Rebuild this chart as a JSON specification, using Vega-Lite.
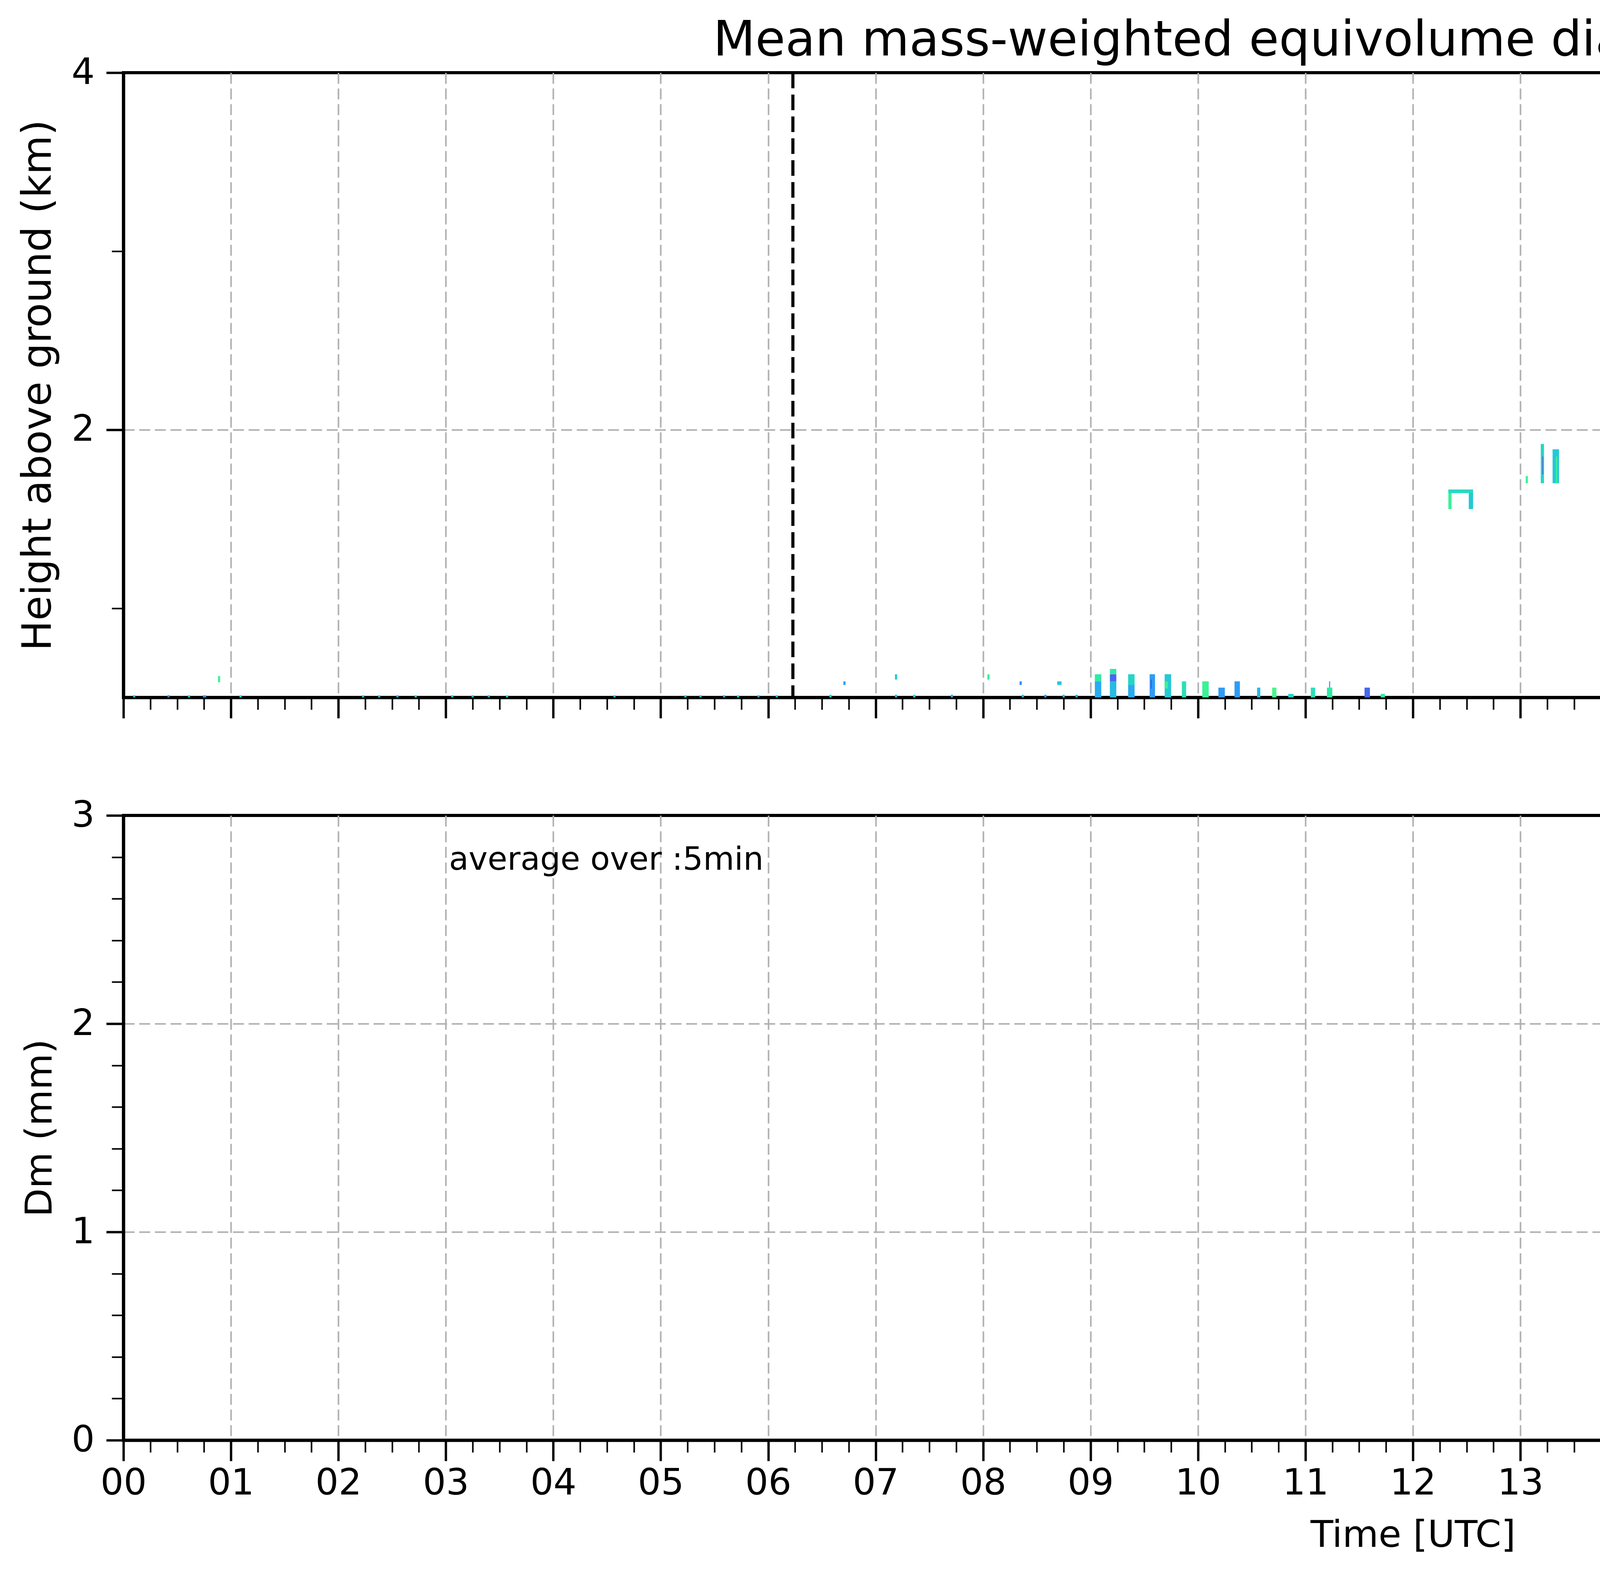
{
"$schema": "https://vega.github.io/schema/vega-lite/v6.json",
"background": "white",
"padding": {"left": 43, "top": 38, "right": 5, "bottom": 5},
"config": {
  "font": "DejaVu Sans",
  "view": {"stroke": "black", "strokeWidth": 8},
  "axis": {"domainColor": "black", "domainWidth": 8, "tickColor": "black", "labelColor": "black", "labelFont": "DejaVu Sans", "labelFontSize": 93, "titleFont": "DejaVu Sans", "titleFontSize": 95, "titleFontWeight": "normal", "titleColor": "black", "gridColor": "#b0b0b0", "gridWidth": 4, "gridDash": [28, 12], "labelOverlap": false, "labelFlush": false},
  "legend": {"gradientVerticalMaxLength": 3000, "labelFont": "DejaVu Sans", "titleFont": "DejaVu Sans"},
  "title": {"font": "DejaVu Sans", "fontWeight": "normal", "color": "black"}
},
"spacing": 302,
"bounds": "flush",
"resolve": {"scale": {"color": "independent"}, "legend": {"color": "independent"}},
"vconcat": [
{
  "width": 6602,
  "height": 1599,
  "title": {"text": "Mean mass-weighted equivolume diameter on 20241111", "fontSize": 125, "anchor": "middle", "offset": -28},
  "layer": [
    {
      "data": {"values": [{"a": 23.9, "b": 24, "lo": 0.5, "hi": 4}]},
      "mark": {"type": "rect", "color": "#d9d9d9"},
      "encoding": {
        "x": {"field": "a", "type": "quantitative", "scale": {"domain": [0, 24], "nice": false, "zero": false}},
        "x2": {"field": "b"},
        "y": {"field": "lo", "type": "quantitative", "scale": {"domain": [0.5, 4], "nice": false, "zero": false}},
        "y2": {"field": "hi"}
      }
    },
    {
      "data": {"values": [
{"a":0.09,"b":0.11,"lo":0.5,"hi":0.512,"dm":0.5},
{"a":0.41,"b":0.43,"lo":0.5,"hi":0.512,"dm":0.3},
{"a":0.60,"b":0.62,"lo":0.5,"hi":0.512,"dm":0.55},
{"a":0.74,"b":0.77,"lo":0.5,"hi":0.512,"dm":0.4},
{"a":0.88,"b":0.90,"lo":0.585,"hi":0.62,"dm":0.75},
{"a":1.08,"b":1.10,"lo":0.5,"hi":0.512,"dm":0.6},
{"a":2.22,"b":2.24,"lo":0.5,"hi":0.512,"dm":0.55},
{"a":2.37,"b":2.39,"lo":0.5,"hi":0.512,"dm":0.5},
{"a":2.54,"b":2.56,"lo":0.5,"hi":0.512,"dm":0.45},
{"a":2.71,"b":2.73,"lo":0.5,"hi":0.512,"dm":0.6},
{"a":3.05,"b":3.07,"lo":0.5,"hi":0.512,"dm":0.55},
{"a":3.24,"b":3.26,"lo":0.5,"hi":0.512,"dm":0.5},
{"a":3.39,"b":3.41,"lo":0.5,"hi":0.512,"dm":0.45},
{"a":3.56,"b":3.58,"lo":0.5,"hi":0.512,"dm":0.6},
{"a":4.56,"b":4.58,"lo":0.5,"hi":0.512,"dm":0.5},
{"a":5.22,"b":5.24,"lo":0.5,"hi":0.512,"dm":0.55},
{"a":5.36,"b":5.38,"lo":0.5,"hi":0.512,"dm":0.5},
{"a":5.58,"b":5.60,"lo":0.5,"hi":0.512,"dm":0.45},
{"a":5.71,"b":5.73,"lo":0.5,"hi":0.512,"dm":0.6},
{"a":5.90,"b":5.92,"lo":0.5,"hi":0.512,"dm":0.4},
{"a":6.07,"b":6.09,"lo":0.5,"hi":0.512,"dm":0.5},
{"a":6.57,"b":6.59,"lo":0.5,"hi":0.515,"dm":0.6},
{"a":6.70,"b":6.72,"lo":0.57,"hi":0.59,"dm":0.4},
{"a":7.18,"b":7.20,"lo":0.6,"hi":0.63,"dm":0.55},
{"a":7.18,"b":7.20,"lo":0.5,"hi":0.515,"dm":0.5},
{"a":7.35,"b":7.37,"lo":0.5,"hi":0.515,"dm":0.6},
{"a":7.70,"b":7.72,"lo":0.5,"hi":0.515,"dm":0.45},
{"a":8.04,"b":8.06,"lo":0.6,"hi":0.63,"dm":0.75},
{"a":8.34,"b":8.36,"lo":0.57,"hi":0.59,"dm":0.35},
{"a":8.36,"b":8.38,"lo":0.5,"hi":0.515,"dm":0.5},
{"a":8.57,"b":8.59,"lo":0.5,"hi":0.515,"dm":0.4},
{"a":8.69,"b":8.73,"lo":0.57,"hi":0.59,"dm":0.55},
{"a":8.74,"b":8.76,"lo":0.5,"hi":0.515,"dm":0.5},
{"a":8.86,"b":8.88,"lo":0.5,"hi":0.515,"dm":0.45},
{"a":9.04,"b":9.10,"lo":0.5,"hi":0.59,"dm":0.45},
{"a":9.04,"b":9.10,"lo":0.59,"hi":0.63,"dm":0.7},
{"a":9.18,"b":9.24,"lo":0.5,"hi":0.59,"dm":0.5},
{"a":9.18,"b":9.24,"lo":0.59,"hi":0.63,"dm":0.25},
{"a":9.18,"b":9.24,"lo":0.63,"hi":0.66,"dm":0.7},
{"a":9.35,"b":9.41,"lo":0.5,"hi":0.57,"dm":0.45},
{"a":9.35,"b":9.41,"lo":0.57,"hi":0.63,"dm":0.6},
{"a":9.55,"b":9.60,"lo":0.5,"hi":0.63,"dm":0.4},
{"a":9.56,"b":9.57,"lo":0.55,"hi":0.6,"dm":0.2},
{"a":9.69,"b":9.75,"lo":0.5,"hi":0.63,"dm":0.55},
{"a":9.69,"b":9.72,"lo":0.55,"hi":0.59,"dm":0.75},
{"a":9.85,"b":9.89,"lo":0.5,"hi":0.59,"dm":0.65},
{"a":10.04,"b":10.10,"lo":0.5,"hi":0.59,"dm":0.75},
{"a":10.19,"b":10.25,"lo":0.5,"hi":0.555,"dm":0.4},
{"a":10.34,"b":10.39,"lo":0.5,"hi":0.59,"dm":0.4},
{"a":10.55,"b":10.58,"lo":0.5,"hi":0.555,"dm":0.5},
{"a":10.69,"b":10.73,"lo":0.5,"hi":0.555,"dm":0.8},
{"a":10.84,"b":10.89,"lo":0.5,"hi":0.52,"dm":0.6},
{"a":11.05,"b":11.09,"lo":0.5,"hi":0.555,"dm":0.65},
{"a":11.20,"b":11.25,"lo":0.5,"hi":0.555,"dm":0.7},
{"a":11.22,"b":11.23,"lo":0.555,"hi":0.59,"dm":0.4},
{"a":11.55,"b":11.60,"lo":0.5,"hi":0.555,"dm":0.25},
{"a":11.70,"b":11.74,"lo":0.5,"hi":0.52,"dm":0.7},
{"a":12.33,"b":12.36,"lo":1.555,"hi":1.66,"dm":0.75},
{"a":12.52,"b":12.56,"lo":1.555,"hi":1.66,"dm":0.55},
{"a":12.33,"b":12.56,"lo":1.645,"hi":1.665,"dm":0.62},
{"a":13.05,"b":13.07,"lo":1.70,"hi":1.74,"dm":0.75},
{"a":13.19,"b":13.22,"lo":1.70,"hi":1.92,"dm":0.6},
{"a":13.205,"b":13.212,"lo":1.75,"hi":1.85,"dm":0.2},
{"a":13.30,"b":13.36,"lo":1.70,"hi":1.89,"dm":0.55},
{"a":13.33,"b":13.345,"lo":1.70,"hi":1.85,"dm":0.72},
{"a":14.35,"b":14.39,"lo":1.84,"hi":1.92,"dm":0.75},
{"a":14.59,"b":14.61,"lo":0.5,"hi":0.515,"dm":0.4},
{"a":14.70,"b":14.72,"lo":0.5,"hi":0.515,"dm":0.5},
{"a":14.86,"b":14.89,"lo":0.5,"hi":0.515,"dm":0.45},
{"a":14.86,"b":14.87,"lo":2.2,"hi":2.24,"dm":0.5},
{"a":15.04,"b":15.06,"lo":1.92,"hi":2.17,"dm":0.3},
{"a":15.19,"b":15.23,"lo":1.81,"hi":2.21,"dm":0.45},
{"a":15.23,"b":15.26,"lo":1.85,"hi":2.21,"dm":0.65},
{"a":15.20,"b":15.21,"lo":1.95,"hi":2.1,"dm":0.25},
{"a":15.32,"b":15.35,"lo":1.85,"hi":2.17,"dm":0.6},
{"a":15.35,"b":15.38,"lo":1.88,"hi":2.17,"dm":0.4},
{"a":15.33,"b":15.34,"lo":1.8,"hi":1.85,"dm":0.9},
{"a":15.52,"b":15.55,"lo":1.88,"hi":2.24,"dm":0.45},
{"a":15.55,"b":15.58,"lo":1.92,"hi":2.24,"dm":0.6},
{"a":15.535,"b":15.545,"lo":2.0,"hi":2.1,"dm":0.2},
{"a":15.68,"b":15.72,"lo":2.03,"hi":2.21,"dm":0.5},
{"a":15.72,"b":15.75,"lo":2.05,"hi":2.21,"dm":0.4},
{"a":15.85,"b":15.856,"lo":2.03,"hi":2.21,"dm":0.2},
{"a":16.085,"b":16.095,"lo":1.96,"hi":2.24,"dm":0.45},
{"a":16.365,"b":16.372,"lo":2.05,"hi":2.36,"dm":0.35},
{"a":16.225,"b":16.235,"lo":0.88,"hi":1.09,"dm":0.6},
{"a":16.33,"b":16.37,"lo":0.5,"hi":0.77,"dm":0.5},
{"a":16.54,"b":16.565,"lo":0.5,"hi":0.91,"dm":0.6},
{"a":16.565,"b":16.59,"lo":0.5,"hi":0.75,"dm":0.45},
{"a":16.555,"b":16.565,"lo":0.91,"hi":1.09,"dm":0.5},
{"a":16.69,"b":16.70,"lo":0.5,"hi":1.13,"dm":0.45},
{"a":16.70,"b":16.715,"lo":0.85,"hi":1.0,"dm":0.55},
{"a":16.715,"b":16.735,"lo":0.62,"hi":1.12,"dm":0.6},
{"a":16.845,"b":16.86,"lo":0.6,"hi":1.13,"dm":0.45},
{"a":16.87,"b":16.885,"lo":1.0,"hi":1.13,"dm":0.5},
{"a":16.87,"b":16.88,"lo":0.5,"hi":0.56,"dm":0.7},
{"a":16.855,"b":16.865,"lo":0.5,"hi":0.6,"dm":0.4},
{"a":17.03,"b":17.06,"lo":0.5,"hi":1.06,"dm":0.42},
{"a":17.06,"b":17.09,"lo":0.5,"hi":1.06,"dm":0.55},
{"a":17.045,"b":17.052,"lo":0.6,"hi":1.0,"dm":0.2},
{"a":17.035,"b":17.045,"lo":0.55,"hi":0.75,"dm":0.75},
{"a":17.18,"b":17.21,"lo":0.5,"hi":1.09,"dm":0.65},
{"a":17.21,"b":17.24,"lo":0.5,"hi":1.09,"dm":0.48},
{"a":17.222,"b":17.23,"lo":0.7,"hi":0.95,"dm":0.2},
{"a":17.34,"b":17.365,"lo":0.5,"hi":1.09,"dm":0.45},
{"a":17.365,"b":17.39,"lo":0.5,"hi":1.09,"dm":0.58},
{"a":17.37,"b":17.38,"lo":0.6,"hi":0.75,"dm":0.8},
{"a":17.54,"b":17.565,"lo":0.5,"hi":1.02,"dm":0.42},
{"a":17.565,"b":17.59,"lo":0.5,"hi":1.02,"dm":0.5},
{"a":17.55,"b":17.557,"lo":0.6,"hi":0.95,"dm":0.2},
{"a":17.69,"b":17.715,"lo":0.55,"hi":1.09,"dm":0.45},
{"a":17.715,"b":17.74,"lo":0.5,"hi":1.09,"dm":0.55},
{"a":17.835,"b":17.845,"lo":0.5,"hi":1.09,"dm":0.6},
{"a":17.855,"b":17.865,"lo":0.6,"hi":1.05,"dm":0.45},
{"a":17.875,"b":17.885,"lo":0.5,"hi":0.9,"dm":0.55},
{"a":17.885,"b":17.89,"lo":0.5,"hi":0.55,"dm":1.2},
{"a":18.045,"b":18.055,"lo":0.6,"hi":1.09,"dm":0.45},
{"a":18.06,"b":18.07,"lo":0.8,"hi":1.05,"dm":0.55},
{"a":18.07,"b":18.08,"lo":0.55,"hi":0.62,"dm":0.4},
{"a":17.855,"b":17.865,"lo":2.02,"hi":2.36,"dm":0.6},
{"a":18.065,"b":18.075,"lo":2.02,"hi":2.39,"dm":0.55},
{"a":18.545,"b":18.555,"lo":2.46,"hi":2.5,"dm":0.55},
{"a":18.71,"b":18.73,"lo":2.17,"hi":2.46,"dm":0.45},
{"a":18.73,"b":18.75,"lo":2.25,"hi":2.46,"dm":0.65},
{"a":18.72,"b":18.725,"lo":2.3,"hi":2.37,"dm":1.5},
{"a":18.86,"b":18.88,"lo":2.13,"hi":2.5,"dm":0.55},
{"a":18.88,"b":18.90,"lo":2.2,"hi":2.5,"dm":0.4},
{"a":19.03,"b":19.06,"lo":2.27,"hi":2.53,"dm":0.7},
{"a":19.17,"b":19.20,"lo":2.35,"hi":2.57,"dm":0.6},
{"a":19.20,"b":19.23,"lo":2.35,"hi":2.57,"dm":0.4},
{"a":19.375,"b":19.385,"lo":2.43,"hi":2.57,"dm":0.3},
{"a":19.565,"b":19.575,"lo":2.36,"hi":2.61,"dm":0.45},
{"a":19.575,"b":19.58,"lo":2.45,"hi":2.55,"dm":0.7},
{"a":19.725,"b":19.735,"lo":2.5,"hi":2.64,"dm":0.4},
{"a":19.565,"b":19.58,"lo":0.84,"hi":1.02,"dm":0.5},
{"a":19.57,"b":19.578,"lo":1.13,"hi":1.165,"dm":0.55},
{"a":19.71,"b":19.716,"lo":0.70,"hi":0.73,"dm":1.6},
{"a":19.84,"b":19.85,"lo":0.62,"hi":0.95,"dm":0.45},
{"a":19.86,"b":19.87,"lo":0.55,"hi":0.8,"dm":0.5},
{"a":19.875,"b":19.885,"lo":0.95,"hi":1.02,"dm":1.3},
{"a":19.88,"b":19.89,"lo":0.5,"hi":0.6,"dm":0.45},
{"a":20.04,"b":20.05,"lo":0.55,"hi":1.0,"dm":0.45},
{"a":20.06,"b":20.075,"lo":0.5,"hi":0.95,"dm":0.5},
{"a":20.075,"b":20.085,"lo":0.55,"hi":0.75,"dm":0.45},
{"a":20.19,"b":20.22,"lo":0.5,"hi":1.2,"dm":0.55},
{"a":20.22,"b":20.25,"lo":0.5,"hi":1.2,"dm":0.45},
{"a":20.198,"b":20.205,"lo":0.88,"hi":1.13,"dm":0.22},
{"a":20.34,"b":20.37,"lo":0.5,"hi":1.2,"dm":0.5},
{"a":20.37,"b":20.40,"lo":0.5,"hi":1.2,"dm":0.45},
{"a":20.352,"b":20.358,"lo":0.8,"hi":1.05,"dm":0.2},
{"a":20.365,"b":20.372,"lo":0.6,"hi":0.8,"dm":0.75},
{"a":20.54,"b":20.575,"lo":0.5,"hi":1.2,"dm":0.5},
{"a":20.575,"b":20.61,"lo":0.5,"hi":1.2,"dm":0.44},
{"a":20.54,"b":20.55,"lo":0.5,"hi":0.6,"dm":0.22},
{"a":20.69,"b":20.72,"lo":0.5,"hi":1.2,"dm":0.55},
{"a":20.72,"b":20.75,"lo":0.5,"hi":1.2,"dm":0.47},
{"a":20.73,"b":20.74,"lo":0.85,"hi":0.95,"dm":0.75},
{"a":20.69,"b":20.70,"lo":0.55,"hi":0.63,"dm":0.15},
{"a":20.845,"b":20.91,"lo":0.66,"hi":0.88,"dm":0.55},
{"a":20.85,"b":20.91,"lo":0.55,"hi":0.66,"dm":0.8},
{"a":20.845,"b":20.875,"lo":0.5,"hi":0.55,"dm":0.3},
{"a":20.875,"b":20.91,"lo":0.5,"hi":0.55,"dm":0.45},
{"a":20.86,"b":20.865,"lo":0.88,"hi":1.06,"dm":0.5},
{"a":21.04,"b":21.10,"lo":0.5,"hi":0.66,"dm":0.55},
{"a":21.045,"b":21.06,"lo":0.5,"hi":0.53,"dm":1.0},
{"a":21.19,"b":21.25,"lo":0.5,"hi":0.63,"dm":0.52},
{"a":21.19,"b":21.20,"lo":0.66,"hi":0.7,"dm":0.6},
{"a":21.34,"b":21.37,"lo":0.5,"hi":1.165,"dm":0.6},
{"a":21.37,"b":21.40,"lo":0.5,"hi":1.165,"dm":0.45},
{"a":21.34,"b":21.37,"lo":0.95,"hi":1.13,"dm":0.7},
{"a":21.54,"b":21.57,"lo":0.5,"hi":1.165,"dm":0.5},
{"a":21.57,"b":21.60,"lo":0.5,"hi":1.165,"dm":0.45},
{"a":21.54,"b":21.565,"lo":0.77,"hi":0.95,"dm":0.75},
{"a":21.69,"b":21.72,"lo":0.5,"hi":1.165,"dm":0.55},
{"a":21.72,"b":21.75,"lo":0.5,"hi":1.165,"dm":0.5},
{"a":21.84,"b":21.90,"lo":0.5,"hi":1.13,"dm":0.52},
{"a":22.04,"b":22.07,"lo":0.5,"hi":1.13,"dm":0.57},
{"a":22.07,"b":22.10,"lo":0.5,"hi":1.13,"dm":0.45},
{"a":22.045,"b":22.06,"lo":0.55,"hi":0.6,"dm":0.75},
{"a":22.19,"b":22.22,"lo":0.5,"hi":1.13,"dm":0.5},
{"a":22.22,"b":22.25,"lo":0.5,"hi":1.13,"dm":0.46},
{"a":22.34,"b":22.37,"lo":0.5,"hi":1.13,"dm":0.55},
{"a":22.37,"b":22.40,"lo":0.5,"hi":1.13,"dm":0.5},
{"a":22.54,"b":22.57,"lo":0.5,"hi":1.095,"dm":0.56},
{"a":22.57,"b":22.60,"lo":0.5,"hi":1.095,"dm":0.47},
{"a":22.69,"b":22.72,"lo":0.5,"hi":1.095,"dm":0.58},
{"a":22.72,"b":22.75,"lo":0.5,"hi":1.095,"dm":0.46},
{"a":22.84,"b":22.87,"lo":0.5,"hi":1.095,"dm":0.52},
{"a":22.87,"b":22.90,"lo":0.5,"hi":1.095,"dm":0.45},
{"a":23.04,"b":23.07,"lo":0.5,"hi":1.095,"dm":0.56},
{"a":23.07,"b":23.10,"lo":0.5,"hi":1.095,"dm":0.44},
{"a":23.04,"b":23.05,"lo":0.77,"hi":0.98,"dm":0.3},
{"a":23.19,"b":23.22,"lo":0.5,"hi":1.06,"dm":0.55},
{"a":23.22,"b":23.25,"lo":0.5,"hi":1.06,"dm":0.45},
{"a":23.20,"b":23.215,"lo":0.8,"hi":0.98,"dm":0.18},
{"a":23.34,"b":23.37,"lo":0.5,"hi":1.06,"dm":0.55},
{"a":23.37,"b":23.40,"lo":0.5,"hi":1.06,"dm":0.5},
{"a":23.34,"b":23.40,"lo":0.77,"hi":0.95,"dm":0.8},
{"a":23.54,"b":23.57,"lo":0.5,"hi":1.06,"dm":0.55},
{"a":23.57,"b":23.60,"lo":0.5,"hi":1.06,"dm":0.47},
{"a":23.54,"b":23.60,"lo":0.77,"hi":0.84,"dm":0.9},
{"a":23.69,"b":23.72,"lo":0.5,"hi":1.06,"dm":0.55},
{"a":23.72,"b":23.75,"lo":0.5,"hi":1.06,"dm":0.45},
{"a":23.69,"b":23.75,"lo":0.8,"hi":0.95,"dm":0.8},
{"a":23.72,"b":23.73,"lo":0.77,"hi":0.88,"dm":0.15},
{"a":23.84,"b":23.89,"lo":0.5,"hi":1.02,"dm":0.5},
{"a":23.85,"b":23.89,"lo":0.72,"hi":0.9,"dm":0.85}
      ]},
      "mark": {"type": "rect"},
      "encoding": {
        "x": {"field": "a", "type": "quantitative", "scale": {"domain": [0, 24], "nice": false, "zero": false},
          "axis": {"values": [0,0.25,0.5,0.75,1,1.25,1.5,1.75,2,2.25,2.5,2.75,3,3.25,3.5,3.75,4,4.25,4.5,4.75,5,5.25,5.5,5.75,6,6.25,6.5,6.75,7,7.25,7.5,7.75,8,8.25,8.5,8.75,9,9.25,9.5,9.75,10,10.25,10.5,10.75,11,11.25,11.5,11.75,12,12.25,12.5,12.75,13,13.25,13.5,13.75,14,14.25,14.5,14.75,15,15.25,15.5,15.75,16,16.25,16.5,16.75,17,17.25,17.5,17.75,18,18.25,18.5,18.75,19,19.25,19.5,19.75,20,20.25,20.5,20.75,21,21.25,21.5,21.75,22,22.25,22.5,22.75,23,23.25,23.5,23.75,24],
            "labels": false, "title": null, "grid": true,
            "gridOpacity": {"condition": {"test": "datum.value % 1 === 0 && datum.value > 0 && datum.value < 24", "value": 1}, "value": 0},
            "tickSize": {"condition": {"test": "datum.value % 1 === 0", "value": 53}, "value": 31},
            "tickWidth": {"condition": {"test": "datum.value % 1 === 0", "value": 6}, "value": 4}}},
        "x2": {"field": "b"},
        "y": {"field": "lo", "type": "quantitative", "scale": {"domain": [0.5, 4], "nice": false, "zero": false},
          "axis": {"values": [1, 2, 3, 4], "labelExpr": "datum.value % 2 === 0 ? '' + datum.value : ''",
            "title": "Height above ground (km)", "titleFontSize": 103, "titlePadding": 31, "labelPadding": 30, "grid": true,
            "gridOpacity": {"condition": {"test": "datum.value === 2", "value": 1}, "value": 0},
            "tickSize": {"condition": {"test": "datum.value % 2 === 0", "value": 44}, "value": 30},
            "tickWidth": {"condition": {"test": "datum.value % 2 === 0", "value": 6}, "value": 4}}},
        "y2": {"field": "hi"},
        "color": {"field": "dm", "type": "quantitative", "scale": {"scheme": "turbo", "domain": [0, 2]},
          "legend": {"type": "gradient", "direction": "vertical", "orient": "right", "offset": 73, "padding": 0,
            "gradientLength": 1599, "gradientThickness": 113, "gradientStrokeColor": "black", "gradientStrokeWidth": 4,
            "values": [0, 0.4, 0.8, 1.2, 1.6, 2.0], "format": ".1f", "labelFontSize": 76, "labelColor": "black", "labelOffset": 52, "labelBaseline": "middle",
            "title": "Dm (mm)", "titleOrient": "right", "titleFontSize": 81, "titleFontWeight": "normal", "titleColor": "black", "titlePadding": 35, "titleAnchor": "middle", "titleLimit": 3000}}
      }
    },
    {
      "data": {"values": [{"t": 6.23}, {"t": 15.66}]},
      "mark": {"type": "rule", "color": "black", "strokeWidth": 8, "strokeDash": [40, 16]},
      "encoding": {"x": {"field": "t", "type": "quantitative"}}
    }
  ]
},
{
  "width": 6602,
  "height": 1599,
  "layer": [
    {
      "data": {"values": [
{"seg":1,"t":17.0,"lo":0.41,"hi":0.748,"med":0.585,"series":"Min-Max Range radar Dm"},
{"seg":1,"t":17.083,"lo":0.44,"hi":0.62,"med":0.485,"series":"Min-Max Range radar Dm"},
{"seg":1,"t":17.167,"lo":0.077,"hi":0.81,"med":0.551,"series":"Min-Max Range radar Dm"},
{"seg":2,"t":17.5,"lo":0.071,"hi":0.673,"med":0.469,"series":"Min-Max Range radar Dm"},
{"seg":2,"t":17.583,"lo":0.451,"hi":0.577,"med":0.515,"series":"Min-Max Range radar Dm"},
{"seg":2,"t":17.667,"lo":0.444,"hi":0.556,"med":0.513,"series":"Min-Max Range radar Dm"},
{"seg":3,"t":18.0,"lo":0.605,"hi":0.605,"med":0.605,"series":"Min-Max Range radar Dm"},
{"seg":3,"t":18.083,"lo":0.515,"hi":0.515,"med":0.515,"series":"Min-Max Range radar Dm"},
{"seg":4,"t":20.0,"lo":0.327,"hi":0.56,"med":0.426,"series":"Min-Max Range radar Dm"},
{"seg":4,"t":20.083,"lo":0.286,"hi":0.67,"med":0.592,"series":"Min-Max Range radar Dm"},
{"seg":4,"t":20.167,"lo":0.245,"hi":0.77,"med":0.485,"series":"Min-Max Range radar Dm"},
{"seg":5,"t":20.5,"lo":0.449,"hi":0.585,"med":0.503,"series":"Min-Max Range radar Dm"},
{"seg":5,"t":20.583,"lo":0.49,"hi":0.52,"med":0.503,"series":"Min-Max Range radar Dm"},
{"seg":5,"t":20.667,"lo":0.393,"hi":0.668,"med":0.538,"series":"Min-Max Range radar Dm"},
{"seg":6,"t":21.5,"lo":0.357,"hi":0.551,"med":0.487,"series":"Min-Max Range radar Dm"},
{"seg":6,"t":21.583,"lo":0.44,"hi":0.49,"med":0.449,"series":"Min-Max Range radar Dm"},
{"seg":6,"t":21.667,"lo":0.372,"hi":0.568,"med":0.464,"series":"Min-Max Range radar Dm"},
{"seg":7,"t":22.0,"lo":0.418,"hi":0.748,"med":0.541,"series":"Min-Max Range radar Dm"},
{"seg":7,"t":22.083,"lo":0.526,"hi":0.622,"med":0.563,"series":"Min-Max Range radar Dm"},
{"seg":7,"t":22.167,"lo":0.362,"hi":0.714,"med":0.541,"series":"Min-Max Range radar Dm"},
{"seg":8,"t":22.5,"lo":0.429,"hi":0.577,"med":0.505,"series":"Min-Max Range radar Dm"},
{"seg":8,"t":22.583,"lo":0.367,"hi":0.507,"med":0.474,"series":"Min-Max Range radar Dm"},
{"seg":8,"t":22.667,"lo":0.367,"hi":0.607,"med":0.5,"series":"Min-Max Range radar Dm"},
{"seg":9,"t":23.0,"lo":0.316,"hi":0.64,"med":0.51,"series":"Min-Max Range radar Dm"},
{"seg":9,"t":23.083,"lo":0.528,"hi":0.63,"med":0.551,"series":"Min-Max Range radar Dm"},
{"seg":9,"t":23.167,"lo":0.466,"hi":0.622,"med":0.52,"series":"Min-Max Range radar Dm"},
{"seg":10,"t":23.5,"lo":0.439,"hi":0.636,"med":0.517,"series":"Min-Max Range radar Dm"},
{"seg":10,"t":23.583,"lo":0.5,"hi":0.599,"med":0.533,"series":"Min-Max Range radar Dm"},
{"seg":10,"t":23.667,"lo":0.398,"hi":0.653,"med":0.513,"series":"Min-Max Range radar Dm"}
      ], "name": "bands"},
      "mark": {"type": "area", "stroke": "#a6a6a6", "strokeWidth": 3, "opacity": 1},
      "encoding": {
        "x": {"field": "t", "type": "quantitative", "scale": {"domain": [0, 24], "nice": false, "zero": false},
          "axis": {"values": [0,0.25,0.5,0.75,1,1.25,1.5,1.75,2,2.25,2.5,2.75,3,3.25,3.5,3.75,4,4.25,4.5,4.75,5,5.25,5.5,5.75,6,6.25,6.5,6.75,7,7.25,7.5,7.75,8,8.25,8.5,8.75,9,9.25,9.5,9.75,10,10.25,10.5,10.75,11,11.25,11.5,11.75,12,12.25,12.5,12.75,13,13.25,13.5,13.75,14,14.25,14.5,14.75,15,15.25,15.5,15.75,16,16.25,16.5,16.75,17,17.25,17.5,17.75,18,18.25,18.5,18.75,19,19.25,19.5,19.75,20,20.25,20.5,20.75,21,21.25,21.5,21.75,22,22.25,22.5,22.75,23,23.25,23.5,23.75,24],
            "labelExpr": "(datum.value % 1 === 0 && datum.value < 24) ? (datum.value < 10 ? '0' + datum.value : '' + datum.value) : ''",
            "labelPadding": 12, "title": "Time [UTC]", "titlePadding": 40, "grid": true,
            "gridOpacity": {"condition": {"test": "datum.value % 1 === 0 && datum.value > 0 && datum.value < 24", "value": 1}, "value": 0},
            "tickSize": {"condition": {"test": "datum.value % 1 === 0", "value": 53}, "value": 31},
            "tickWidth": {"condition": {"test": "datum.value % 1 === 0", "value": 6}, "value": 4}}},
        "y": {"field": "lo", "type": "quantitative", "scale": {"domain": [0, 3], "nice": false, "zero": false},
          "axis": {"values": [0,0.2,0.4,0.6,0.8,1,1.2,1.4,1.6,1.8,2,2.2,2.4,2.6,2.8,3], "labelExpr": "datum.value % 1 === 0 ? '' + datum.value : ''",
            "title": "Dm (mm)", "titlePadding": 31, "labelPadding": 30, "grid": true,
            "gridOpacity": {"condition": {"test": "datum.value === 1 || datum.value === 2", "value": 1}, "value": 0},
            "tickSize": {"condition": {"test": "datum.value % 1 === 0", "value": 44}, "value": 30},
            "tickWidth": {"condition": {"test": "datum.value % 1 === 0", "value": 6}, "value": 4}}},
        "y2": {"field": "hi"},
        "detail": {"field": "seg", "type": "nominal"},
        "color": {"field": "series", "type": "nominal",
          "scale": {"domain": ["Min-Max Range radar Dm", "radar(xmacs-wmacs)_Dm_median", "Min-Max Range parsivel Dm", "parsivel_Dm_median"], "range": ["#bfbfbf", "#000000", "#ebb3eb", "#c000c0"]},
          "legend": {"orient": "top-right", "offset": 36, "padding": 22, "title": null, "strokeColor": "#cccccc", "cornerRadius": 15, "fillColor": "rgba(255,255,255,0.85)",
            "symbolType": "square", "symbolSize": 4900, "symbolOffset": 30, "labelOffset": 84, "rowPadding": 27, "labelFontSize": 69, "labelColor": "black", "labelLimit": 3000}}
      }
    },
    {
      "data": {"values": [
{"t":16.5,"lo":0.432,"hi":0.722},
{"t":16.667,"lo":0.415,"hi":0.630},
{"t":16.833,"lo":0.160,"hi":0.785},
{"t":17.333,"lo":0.294,"hi":1.281},
{"t":17.833,"lo":0.177,"hi":0.678},
{"t":19.833,"lo":0.535,"hi":0.595},
{"t":20.333,"lo":0.432,"hi":0.717},
{"t":20.833,"lo":0.415,"hi":0.644},
{"t":21.333,"lo":0.409,"hi":0.564},
{"t":21.833,"lo":0.462,"hi":0.567},
{"t":22.333,"lo":0.355,"hi":0.669},
{"t":22.833,"lo":0.283,"hi":0.612},
{"t":23.333,"lo":0.228,"hi":0.754},
{"t":23.833,"lo":0.401,"hi":0.742}
      ]},
      "mark": {"type": "rule", "color": "#bdbdbd", "strokeWidth": 5},
      "encoding": {
        "x": {"field": "t", "type": "quantitative"},
        "y": {"field": "lo", "type": "quantitative"},
        "y2": {"field": "hi"}
      }
    },
    {
      "data": {"name": "bands"},
      "mark": {"type": "line", "color": "black", "strokeWidth": 11},
      "encoding": {
        "x": {"field": "t", "type": "quantitative"},
        "y": {"field": "med", "type": "quantitative"},
        "detail": {"field": "seg", "type": "nominal"}
      }
    },
    {
      "data": {"values": [{"t": 3.03, "v": 2.74, "label": "average over :5min"}]},
      "mark": {"type": "text", "align": "left", "baseline": "alphabetic", "fontSize": 82, "font": "DejaVu Sans", "color": "black"},
      "encoding": {
        "x": {"field": "t", "type": "quantitative"},
        "y": {"field": "v", "type": "quantitative"},
        "text": {"field": "label"}
      }
    }
  ]
}
]
}
